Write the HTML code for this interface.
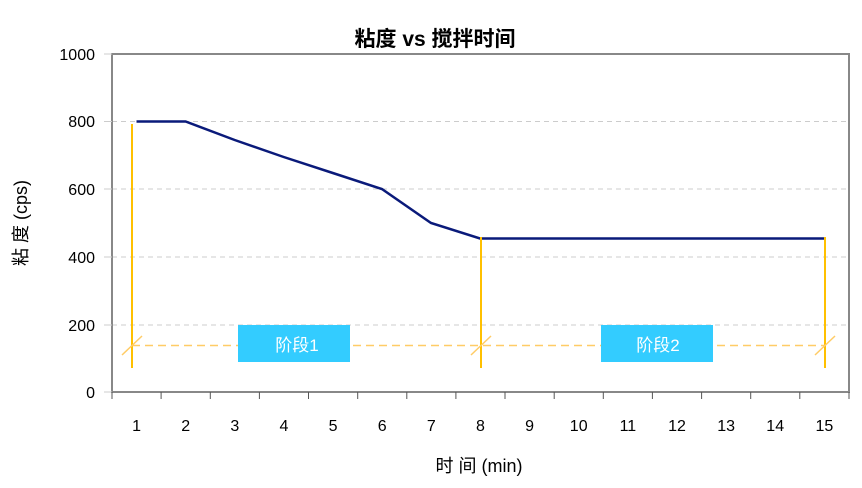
<!DOCTYPE html><html><head><meta charset="utf-8"><style>body{margin:0;background:#fff}svg{display:block}text{font-family:"Liberation Sans","Noto Sans CJK SC",sans-serif}</style></head><body>
<svg width="862" height="488" xmlns="http://www.w3.org/2000/svg">
<text x="435" y="46" font-size="21" font-weight="bold" text-anchor="middle">粘度 vs  搅拌时间</text>
<g stroke="#ccc" stroke-dasharray="5,4" stroke-width="1">
<line x1="112" y1="121.5" x2="849" y2="121.5"/><line x1="112" y1="189" x2="849" y2="189"/><line x1="112" y1="257" x2="849" y2="257"/><line x1="112" y1="325" x2="849" y2="325"/></g>
<rect x="112" y="54" width="737" height="338" fill="none" stroke="#888" stroke-width="2"/>
<g stroke="#ccc"><line x1="104" y1="54" x2="112" y2="54"/><line x1="104" y1="121.5" x2="112" y2="121.5"/><line x1="104" y1="189" x2="112" y2="189"/><line x1="104" y1="257" x2="112" y2="257"/><line x1="104" y1="325" x2="112" y2="325"/><line x1="104" y1="392" x2="112" y2="392"/></g>
<g font-size="16" text-anchor="end"><text x="95" y="60">1000</text><text x="95" y="127">800</text><text x="95" y="195">600</text><text x="95" y="263">400</text><text x="95" y="331">200</text><text x="95" y="398">0</text></g>
<g stroke="#555"><line x1="112" y1="392" x2="112" y2="399"/><line x1="161.1" y1="392" x2="161.1" y2="399"/><line x1="210.3" y1="392" x2="210.3" y2="399"/><line x1="259.4" y1="392" x2="259.4" y2="399"/><line x1="308.5" y1="392" x2="308.5" y2="399"/><line x1="357.7" y1="392" x2="357.7" y2="399"/><line x1="406.8" y1="392" x2="406.8" y2="399"/><line x1="455.9" y1="392" x2="455.9" y2="399"/><line x1="505" y1="392" x2="505" y2="399"/><line x1="554.2" y1="392" x2="554.2" y2="399"/><line x1="603.3" y1="392" x2="603.3" y2="399"/><line x1="652.4" y1="392" x2="652.4" y2="399"/><line x1="701.6" y1="392" x2="701.6" y2="399"/><line x1="750.7" y1="392" x2="750.7" y2="399"/><line x1="799.8" y1="392" x2="799.8" y2="399"/><line x1="849" y1="392" x2="849" y2="399"/></g>
<g font-size="16" text-anchor="middle"><text x="136.6" y="431">1</text><text x="185.7" y="431">2</text><text x="234.8" y="431">3</text><text x="283.9" y="431">4</text><text x="333.1" y="431">5</text><text x="382.2" y="431">6</text><text x="431.3" y="431">7</text><text x="480.5" y="431">8</text><text x="529.6" y="431">9</text><text x="578.7" y="431">10</text><text x="627.9" y="431">11</text><text x="677" y="431">12</text><text x="726.1" y="431">13</text><text x="775.2" y="431">14</text><text x="824.4" y="431">15</text></g>
<polyline fill="none" stroke="#0a1a7a" stroke-width="2.5" points="136.5,121.5 185.6,121.5 234.7,140 283.7,157 332.8,173 381.9,189 431,223 480,238.5 824,238.5"/>
<g stroke="#ffc000" stroke-width="2"><line x1="132" y1="124" x2="132" y2="368"/><line x1="481" y1="237" x2="481" y2="368"/><line x1="825" y1="237" x2="825" y2="368"/></g>
<g stroke="#ffcc66" stroke-width="1.5"><line x1="132" y1="345.5" x2="825" y2="345.5" stroke-dasharray="8,5"/><line x1="122" y1="355" x2="142" y2="336"/><line x1="471" y1="355" x2="491" y2="336"/><line x1="815" y1="355" x2="835" y2="336"/></g>
<rect x="238" y="325" width="112" height="37" fill="#33ccff"/><rect x="601" y="325" width="112" height="37" fill="#33ccff"/>
<g font-size="17" fill="#fff" text-anchor="middle"><text x="297" y="351">阶段1</text><text x="658" y="351">阶段2</text></g>
<text x="479" y="472" font-size="18" text-anchor="middle">时 间  (min)</text>
<text transform="translate(27,223) rotate(-90)" font-size="18" text-anchor="middle">粘 度  (cps)</text>
</svg></body></html>
